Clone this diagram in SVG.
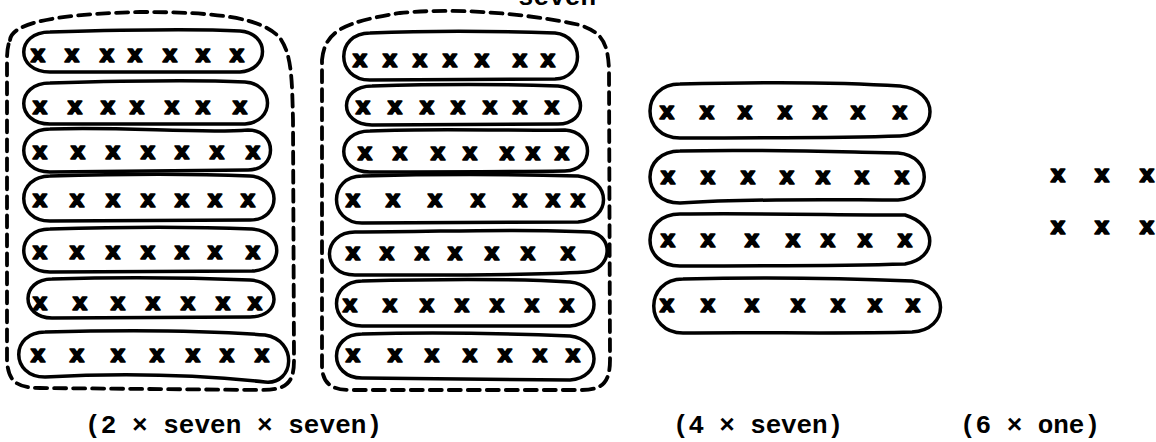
<svg xmlns="http://www.w3.org/2000/svg" width="1156" height="442" viewBox="0 0 1156 442">
<style>
.ov{fill:none;stroke:#000;stroke-width:3.5;stroke-linejoin:round}
.dash{fill:none;stroke:#000;stroke-width:3.8;stroke-dasharray:12 7;stroke-linecap:round}
.x{font-family:"DejaVu Sans",sans-serif;font-weight:bold;font-size:23px;text-anchor:middle;fill:#000;stroke:#000;stroke-width:1.6;stroke-linejoin:round}
.lbl{font-family:"Liberation Mono","DejaVu Sans Mono",monospace;font-weight:bold;font-size:26px;fill:#000}
</style>
<rect width="1156" height="442" fill="#fff"/>
<g id="group-left">
<path class="dash" d="M10,40 C12,22 60,14 140,12 C220,12 262,18 280,38 C292,55 292,80 293,120 L294,360 C294,385 285,390 260,390 L40,388 C15,388 8,380 7,360 L7,60 C7,50 8,45 10,40"/>
<g id="L1"><path class="ov" d="M50,32 C120,30 200,29 240,31 C270,33 270,70 240,72 L50,72 C15,72 15,32 50,32Z"/>
<text class="x" y="62"><tspan x="38">x</tspan><tspan x="72">x</tspan><tspan x="107">x</tspan><tspan x="135">x</tspan><tspan x="170">x</tspan><tspan x="203">x</tspan><tspan x="237">x</tspan></text></g>
<g id="L2"><path class="ov" d="M50,83 C120,81 200,80 245,82 C275,84 275,122 245,124 L50,124 C15,124 15,83 50,83Z"/>
<text class="x" y="114"><tspan x="40">x</tspan><tspan x="75">x</tspan><tspan x="108">x</tspan><tspan x="137">x</tspan><tspan x="172">x</tspan><tspan x="203">x</tspan><tspan x="240">x</tspan></text></g>
<g id="L3"><path class="ov" d="M50,129 C120,126 200,134 248,130 C278,130 278,170 248,170 L50,172 C15,172 15,129 50,129Z"/>
<text class="x" y="159"><tspan x="40">x</tspan><tspan x="78">x</tspan><tspan x="113">x</tspan><tspan x="148">x</tspan><tspan x="182">x</tspan><tspan x="217">x</tspan><tspan x="253">x</tspan></text></g>
<g id="L4"><path class="ov" d="M50,176 C120,174 200,174 250,176 C282,178 282,220 250,220 L50,221 C15,221 15,176 50,176Z"/>
<text class="x" y="207"><tspan x="40">x</tspan><tspan x="77">x</tspan><tspan x="113">x</tspan><tspan x="148">x</tspan><tspan x="182">x</tspan><tspan x="215">x</tspan><tspan x="248">x</tspan></text></g>
<g id="L5"><path class="ov" d="M50,229 C120,227 200,227 252,229 C285,231 285,270 252,271 L50,272 C15,272 15,229 50,229Z"/>
<text class="x" y="259"><tspan x="40">x</tspan><tspan x="77">x</tspan><tspan x="113">x</tspan><tspan x="148">x</tspan><tspan x="182">x</tspan><tspan x="215">x</tspan><tspan x="253">x</tspan></text></g>
<g id="L6"><path class="ov" d="M52,279 C120,277 200,278 250,280 C282,282 282,317 250,317 L52,318 C20,318 20,279 52,279Z"/>
<text class="x" y="310"><tspan x="40">x</tspan><tspan x="80">x</tspan><tspan x="118">x</tspan><tspan x="153">x</tspan><tspan x="188">x</tspan><tspan x="223">x</tspan><tspan x="255">x</tspan></text></g>
<g id="L7"><path class="ov" d="M45,332 C120,330 200,330 265,335 C298,340 295,385 265,382 C200,375 120,373 45,377 C10,377 10,332 45,332Z"/>
<text class="x" y="362"><tspan x="38">x</tspan><tspan x="77">x</tspan><tspan x="118">x</tspan><tspan x="157">x</tspan><tspan x="193">x</tspan><tspan x="227">x</tspan><tspan x="262">x</tspan></text></g>
</g>
<g id="group-middle">
<path class="dash" d="M322,60 C325,30 345,22 400,13 C450,8 520,12 580,25 C600,32 608,40 609,70 L610,360 C610,385 600,390 580,390 L350,390 C330,390 322,382 322,365 Z"/>
<g id="M1"><path class="ov" d="M370,33 C440,30 500,31 555,33 C585,36 585,78 555,79 L370,80 C335,80 335,33 370,33Z"/>
<text class="x" y="67"><tspan x="360">x</tspan><tspan x="390">x</tspan><tspan x="420">x</tspan><tspan x="450">x</tspan><tspan x="482">x</tspan><tspan x="520">x</tspan><tspan x="548">x</tspan></text></g>
<g id="M2"><path class="ov" d="M372,86 C440,84 500,84 558,86 C588,88 588,124 558,124 L372,125 C338,125 338,86 372,86Z"/>
<text class="x" y="114"><tspan x="363">x</tspan><tspan x="395">x</tspan><tspan x="427">x</tspan><tspan x="458">x</tspan><tspan x="490">x</tspan><tspan x="520">x</tspan><tspan x="552">x</tspan></text></g>
<g id="M3"><path class="ov" d="M370,131 C440,128 500,131 565,130 C595,132 595,170 565,171 C500,172 440,172 370,172 C335,172 335,131 370,131Z"/>
<text class="x" y="160"><tspan x="365">x</tspan><tspan x="400">x</tspan><tspan x="438">x</tspan><tspan x="470">x</tspan><tspan x="507">x</tspan><tspan x="533">x</tspan><tspan x="562">x</tspan></text></g>
<g id="M4"><path class="ov" d="M362,176 C440,174 500,174 578,176 C612,180 612,220 578,222 L362,223 C328,223 328,176 362,176Z"/>
<text class="x" y="207"><tspan x="353">x</tspan><tspan x="393">x</tspan><tspan x="435">x</tspan><tspan x="478">x</tspan><tspan x="520">x</tspan><tspan x="553">x</tspan><tspan x="578">x</tspan></text></g>
<g id="M5"><path class="ov" d="M355,232 C440,232 520,228 590,232 C615,236 612,270 585,272 C520,276 440,275 355,275 C320,275 322,232 355,232Z"/>
<text class="x" y="260"><tspan x="353">x</tspan><tspan x="387">x</tspan><tspan x="422">x</tspan><tspan x="455">x</tspan><tspan x="492">x</tspan><tspan x="528">x</tspan><tspan x="568">x</tspan></text></g>
<g id="M6"><path class="ov" d="M362,281 C440,279 520,279 570,282 C602,285 602,324 570,326 L362,326 C328,326 328,281 362,281Z"/>
<text class="x" y="312"><tspan x="350">x</tspan><tspan x="390">x</tspan><tspan x="427">x</tspan><tspan x="462">x</tspan><tspan x="497">x</tspan><tspan x="532">x</tspan><tspan x="567">x</tspan></text></g>
<g id="M7"><path class="ov" d="M362,334 C440,332 520,334 570,336 C602,340 602,378 570,380 L362,378 C328,378 328,334 362,334Z"/>
<text class="x" y="362"><tspan x="353">x</tspan><tspan x="395">x</tspan><tspan x="432">x</tspan><tspan x="470">x</tspan><tspan x="505">x</tspan><tspan x="540">x</tspan><tspan x="573">x</tspan></text></g>
</g>
<g id="group-right">
<g id="R1"><path class="ov" d="M680,84 C760,82 840,82 900,86 C940,90 940,134 900,136 C840,138 760,138 680,138 C640,138 640,84 680,84Z"/>
<text class="x" y="119"><tspan x="667">x</tspan><tspan x="707">x</tspan><tspan x="745">x</tspan><tspan x="785">x</tspan><tspan x="820">x</tspan><tspan x="858">x</tspan><tspan x="900">x</tspan></text></g>
<g id="R2"><path class="ov" d="M680,151 C760,149 840,152 898,153 C933,156 933,198 898,200 C840,200 760,198 680,203 C640,203 640,151 680,151Z"/>
<text class="x" y="184"><tspan x="668">x</tspan><tspan x="708">x</tspan><tspan x="748">x</tspan><tspan x="787">x</tspan><tspan x="823">x</tspan><tspan x="862">x</tspan><tspan x="902">x</tspan></text></g>
<g id="R3"><path class="ov" d="M680,214 C760,213 840,215 905,215 C938,225 938,258 905,264 C840,266 760,266 680,266 C640,266 640,214 680,214Z"/>
<text class="x" y="247"><tspan x="668">x</tspan><tspan x="708">x</tspan><tspan x="752">x</tspan><tspan x="793">x</tspan><tspan x="828">x</tspan><tspan x="865">x</tspan><tspan x="905">x</tspan></text></g>
<g id="R4"><path class="ov" d="M683,279 C760,277 840,278 912,281 C950,285 950,330 912,332 C840,334 760,332 683,333 C644,333 644,279 683,279Z"/>
<text class="x" y="312"><tspan x="667">x</tspan><tspan x="708">x</tspan><tspan x="752">x</tspan><tspan x="798">x</tspan><tspan x="838">x</tspan><tspan x="875">x</tspan><tspan x="913">x</tspan></text></g>
</g>
<g id="group-ones">
<text class="x" y="182"><tspan x="1058">x</tspan><tspan x="1102">x</tspan><tspan x="1147">x</tspan></text>
<text class="x" y="234"><tspan x="1058">x</tspan><tspan x="1102">x</tspan><tspan x="1147">x</tspan></text>
</g>
<g id="labels">
<text class="lbl" x="518" y="5">seven</text>
<text class="lbl" x="85" y="433" textLength="297">(2 × seven × seven)</text>
<text class="lbl" x="673" y="433" textLength="170">(4 × seven)</text>
<text class="lbl" x="960" y="433" textLength="140">(6 × one)</text>
</g>
</svg>
